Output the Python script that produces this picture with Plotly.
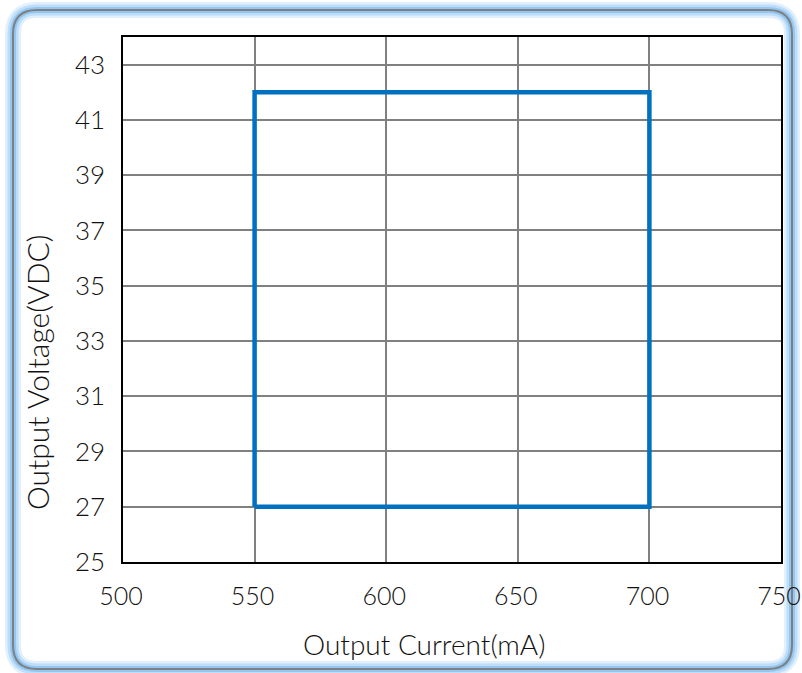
import plotly.graph_objects as go

x_current = [550, 700, 700, 550, 550]
y_voltage = [27, 27, 42, 42, 27]
x_ticks = [500, 550, 600, 650, 700, 750]
y_ticks = [25, 27, 29, 31, 33, 35, 37, 39, 41, 43]

W, H = 802, 673
L, R, T, B = 123, 21, 37, 111
PW, PH = W - L - R, H - T - B

def px(x):
    return (x - L) / PW

def py(y):
    return (H - B - y) / PH

def rrect(x0, y0, x1, y1, r):
    pts = [
        ("M", (x0 + r, y0)), ("L", (x1 - r, y0)), ("Q", (x1, y0), (x1, y0 + r)),
        ("L", (x1, y1 - r)), ("Q", (x1, y1), (x1 - r, y1)),
        ("L", (x0 + r, y1)), ("Q", (x0, y1), (x0, y1 - r)),
        ("L", (x0, y0 + r)), ("Q", (x0, y0), (x0 + r, y0)),
    ]
    s = ""
    for p in pts:
        cmd = p[0]
        coords = " ".join(f"{px(a):.5f},{py(b):.5f}" for a, b in p[1:])
        s += f"{cmd} {coords} "
    return s + "Z"

fig = go.Figure()
fig.add_trace(go.Scatter(x=x_current, y=y_voltage, mode="lines",
                         line=dict(color="#0070C0", width=4.5), showlegend=False,
                         hoverinfo="skip"))

font = "Lato"
tfy = dict(size=26, family=font, color="#111111", weight=300)
tfx = dict(size=25, family=font, color="#111111", weight=300)
fig.update_layout(
    width=W, height=H,
    margin=dict(l=L, r=R, t=T, b=B, autoexpand=False),
    paper_bgcolor="white", plot_bgcolor="white",
    font=dict(family=font, color="#111111"),
    xaxis=dict(range=[500, 750], tickvals=x_ticks, showgrid=True, gridcolor="#808080",
               gridwidth=1.5, zeroline=False, showline=True, linecolor="black",
               linewidth=1.5, mirror=True, tickfont=tfx, ticks="", automargin=False,
               ticklabelstandoff=11, ticklabeloverflow="allow", ticklabelshift=-2),
    yaxis=dict(range=[25, 44], tickvals=y_ticks, showgrid=True, gridcolor="#808080",
               gridwidth=1.5, zeroline=False, showline=True, linecolor="black",
               linewidth=1.5, mirror=True, tickfont=tfy, ticks="", automargin=False,
               ticklabelstandoff=11, ticklabeloverflow="allow"),
)

fig.add_annotation(text="Output Current(mA)", xref="paper", yref="paper",
                   x=(424 - L) / PW, y=(H - B - 644) / PH, xanchor="center", yanchor="middle",
                   showarrow=False, font=dict(size=28, family=font, color="#111111", weight=300))
fig.add_annotation(text="Output Voltage(VDC)", xref="paper", yref="paper",
                   x=(37 - L) / PW, y=(H - B - 373) / PH, xanchor="center", yanchor="middle",
                   textangle=-90, showarrow=False,
                   font=dict(size=30, family=font, color="#111111", weight=300))

shapes = []
box = (13, 10, 792, 669, 24)
for w, c in [(16, "rgba(195,225,250,0.5)"), (11, "rgba(165,208,246,0.6)"), (6, "rgba(140,195,240,0.85)")]:
    shapes.append(dict(type="path", xref="paper", yref="paper", path=rrect(*box),
                       line=dict(color=c, width=w), layer="below"))
shapes.append(dict(type="path", xref="paper", yref="paper", path=rrect(*box),
                   line=dict(color="#808080", width=2), layer="below"))
fig.update_layout(shapes=shapes)

fig.write_html("out.html", config={"displayModeBar": False},
               post_script="document.body.style.margin='0';document.body.style.overflow='hidden';")
